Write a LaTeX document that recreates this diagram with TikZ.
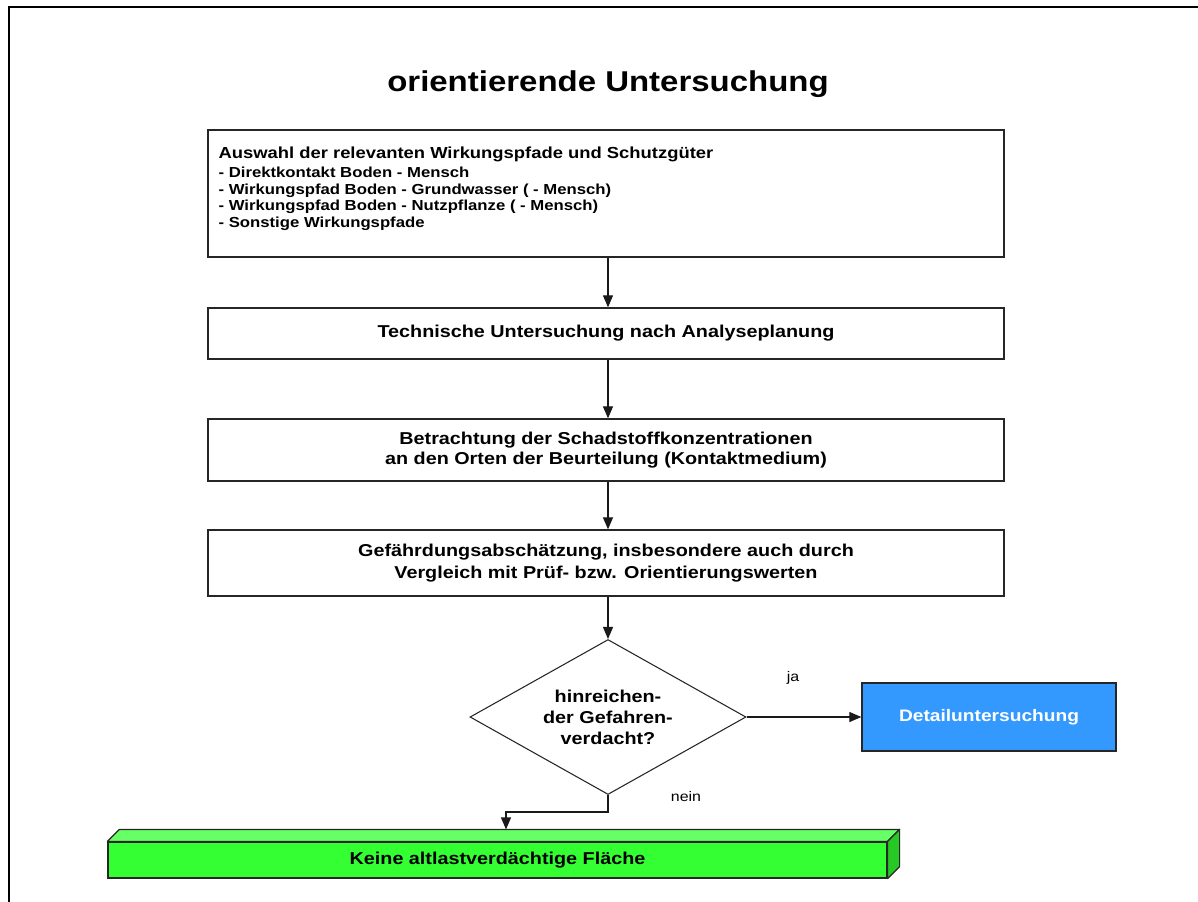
\documentclass[tikz,border=0pt]{standalone}
\usepackage{fontspec}
\setmainfont{Liberation Sans}[FakeStretch=1.15]
\usetikzlibrary{shapes.geometric,arrows.meta,calc}
\definecolor{detailblue}{RGB}{51,153,255}
\definecolor{barfront}{RGB}{51,255,51}
\definecolor{bartop}{RGB}{102,255,102}
\definecolor{barside}{RGB}{38,200,38}
\begin{document}
\begin{tikzpicture}[x=0.75pt,y=-0.75pt,
  box/.style={draw=black!85,line width=1pt,rectangle,minimum width=597pt,inner sep=0pt,
    font=\fontsize{12.9}{15.5}\selectfont\bfseries,align=center},
  arr/.style={draw=black!90,line width=0.9pt,-{Triangle[length=9pt,width=7.5pt]}},
  lbl/.style={font=\fontsize{10.4}{12}\selectfont,inner sep=0pt}]
\useasboundingbox (0,0) rectangle (1198,901);
% page frame, open to the right and bottom
\draw[line width=1.6pt] (1215,7) -- (9,7) -- (9,915);

\node[font=\fontsize{21.5}{25}\selectfont\bfseries] (title) at (608,84) {orientierende Untersuchung};

% process boxes
\node[box,minimum height=95.25pt] (b1) at (606,193.5) {};
\node[anchor=north west,inner sep=0pt,align=left,font=\fontsize{10.9}{12.3}\selectfont\bfseries]
  (b1text) at ($(b1.north west)+(11,17)$)
  {{\fontsize{12}{14}\selectfont Auswahl der relevanten Wirkungspfade und Schutzgüter}\\[2.5pt]
   - Direktkontakt Boden - Mensch\\
   - Wirkungspfad Boden - Grundwasser ( - Mensch)\\
   - Wirkungspfad Boden - Nutzpflanze ( - Mensch)\\
   - Sonstige Wirkungspfade};
\node[box,minimum height=38.25pt] (b2) at (606,333.5) {Technische Untersuchung nach Analyseplanung};
\node[box,minimum height=46.5pt,font=\fontsize{12.9}{15}\selectfont\bfseries] (b3) at (606,450)
  {Betrachtung der Schadstoffkonzentrationen\\an den Orten der Beurteilung (Kontaktmedium)};
\node[box,minimum height=49.5pt,font=\fontsize{12.9}{17}\selectfont\bfseries] (b4) at (606,563)
  {Gefährdungsabschätzung, insbesondere auch durch\\Vergleich mit Prüf- bzw. Orientierungswerten};

% decision
\node[diamond,draw=black!85,line width=0.8pt,minimum width=207pt,minimum height=116.25pt,
  inner sep=0pt,aspect=1.78,align=center,font=\fontsize{12.9}{15.7}\selectfont\bfseries]
  (d) at (608,717) {hinreichen-\\der Gefahren-\\verdacht?};

\node[draw=black!85,line width=1pt,fill=detailblue,minimum width=190.5pt,minimum height=51pt,
  inner sep=0pt,text=white,font=\fontsize{12.5}{14}\selectfont\bfseries] (det) at (989,717) {Detailuntersuchung};

% 3D bar
\node[draw=black!85,line width=0.9pt,fill=barfront,minimum width=584.25pt,minimum height=27pt,
  inner sep=0pt,font=\fontsize{12.9}{14}\selectfont\bfseries] (g) at (497.5,860) {Keine altlastverdächtige Fläche};
\filldraw[draw=black!85,line width=0.9pt,fill=bartop,line join=round]
  (g.north west) -- ++(12,-12) -- ($(g.north east)+(12,-12)$) -- (g.north east) -- cycle;
\filldraw[draw=black!85,line width=0.9pt,fill=barside,line join=round]
  (g.north east) -- ++(12,-12) -- ($(g.south east)+(12,-12)$) -- (g.south east) -- cycle;
\coordinate (gin) at ($(g.north)+(8.5,-12)$);

% connectors
\draw[arr] ([xshift=1.5pt]b1.south) -- ([xshift=1.5pt]b2.north);
\draw[arr] ([xshift=1.5pt]b2.south) -- ([xshift=1.5pt]b3.north);
\draw[arr] ([xshift=1.5pt]b3.south) -- ([xshift=1.5pt]b4.north);
\draw[arr] ([xshift=1.5pt]b4.south) -- (d.north);
\draw[arr] (d.east) -- (det.west);
\draw[arr] (d.south) -- ++(0,17) -| (gin);

\node[lbl] (ja) at (793,678) {ja};
\node[lbl] (nein) at (686,797) {nein};
\end{tikzpicture}
\end{document}
